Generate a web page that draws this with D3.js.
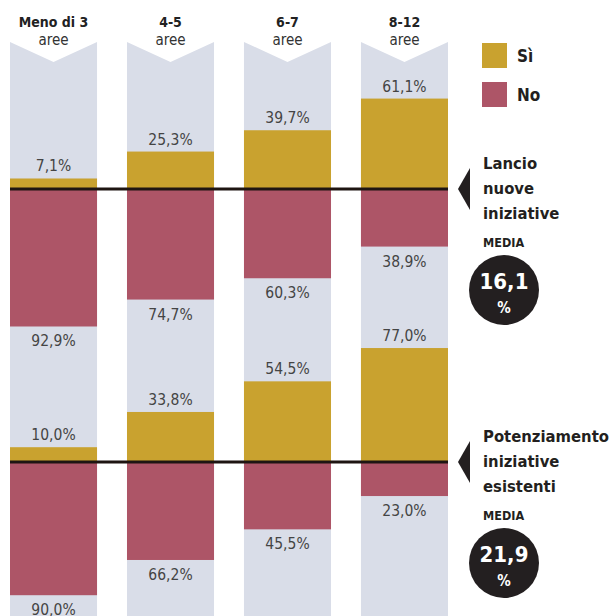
<!DOCTYPE html>
<html>
<head>
<meta charset="utf-8">
<script src="https://cdn.jsdelivr.net/npm/d3@7"></script>
<style>
  body { margin: 0; background: #fff; }
  svg { display: block; }
  text { font-family: "DejaVu Sans Condensed", "DejaVu Sans", sans-serif; }
</style>
</head>
<body>
<script>
var width = 611;
var height = 616;

// data
var categories = ["Meno di 3", "4-5", "6-7", "8-12"];
var subLabel = "aree";
var lancioSi = [7.1, 25.3, 39.7, 61.1];
var lancioNo = [92.9, 74.7, 60.3, 38.9];
var potSi = [10.0, 33.8, 54.5, 77.0];
var potNo = [90.0, 66.2, 45.5, 23.0];
var panelTitles = [["Lancio", "nuove", "iniziative"], ["Potenziamento", "iniziative", "esistenti"]];
var medie = [16.1, 21.9];
var legendLabels = ["Sì", "No"];

var colSi = "#c9a22f";
var colNo = "#ad5567";
var colBg = "#d9dde8";

var panels = [
  { base: 189, si: lancioSi, no: lancioNo, title: panelTitles[0], media: medie[0] },
  { base: 462, si: potSi, no: potNo, title: panelTitles[1], media: medie[1] }
];

var fmt = function(v) { return d3.format(".1f")(v).replace(".", ",") + "%"; };

let svg = d3.select("body")
            .append("svg")
            .attr("width", width)
            .attr("height", height);

var xScale = d3.scaleBand()
      .domain(categories)
      .range([10, 448])
      .paddingInner(0.256)
      .paddingOuter(0);

// pixels per percent point
var hScale = d3.scaleLinear().domain([0, 100]).range([0, 148]);

// column backgrounds with chevron top
svg.selectAll(".col")
   .data(categories)
   .join("path")
     .attr("fill", colBg)
     .attr("d", function(d){
       var x0 = xScale(d), x1 = x0 + xScale.bandwidth(), xc = (x0 + x1) / 2;
       return `M${x0},42 L${xc},62 L${x1},42 L${x1},${height} L${x0},${height} Z`;
     });

// column headers
var hdr = svg.selectAll(".hdr")
   .data(categories)
   .join("g")
     .attr("transform", d => `translate(${xScale(d) + xScale.bandwidth()/2},0)`);
hdr.append("text")
   .attr("y", 27)
   .attr("text-anchor", "middle")
   .attr("font-size", 14)
   .attr("font-weight", "bold")
   .attr("fill", "#222")
   .text(d => d);
hdr.append("text")
   .attr("y", 45)
   .attr("text-anchor", "middle")
   .attr("font-size", 15)
   .attr("fill", "#333")
   .text(subLabel);

panels.forEach(function(p){
  var g = svg.append("g");

  // Sì bars, upward
  g.selectAll(".si")
    .data(p.si)
    .join("rect")
      .attr("x", (d, i) => xScale(categories[i]))
      .attr("width", xScale.bandwidth())
      .attr("y", d => p.base - hScale(d))
      .attr("height", d => hScale(d))
      .attr("fill", colSi);

  // No bars, downward
  g.selectAll(".no")
    .data(p.no)
    .join("rect")
      .attr("x", (d, i) => xScale(categories[i]))
      .attr("width", xScale.bandwidth())
      .attr("y", p.base)
      .attr("height", d => hScale(d))
      .attr("fill", colNo);

  g.selectAll(".siLab")
    .data(p.si)
    .join("text")
      .attr("x", (d, i) => xScale(categories[i]) + xScale.bandwidth()/2)
      .attr("y", d => p.base - hScale(d) - 7)
      .attr("text-anchor", "middle")
      .attr("font-size", 15.5)
      .attr("fill", "#444")
      .text(fmt);

  g.selectAll(".noLab")
    .data(p.no)
    .join("text")
      .attr("x", (d, i) => xScale(categories[i]) + xScale.bandwidth()/2)
      .attr("y", d => p.base + hScale(d) + 20)
      .attr("text-anchor", "middle")
      .attr("font-size", 15.5)
      .attr("fill", "#444")
      .text(fmt);

  // baseline
  g.append("rect")
    .attr("x", 10)
    .attr("width", 438)
    .attr("y", p.base - 1.5)
    .attr("height", 3)
    .attr("fill", "#1e1512");

  // pointer
  g.append("path")
    .attr("d", `M458,${p.base} L470,${p.base - 21} L470,${p.base + 21} Z`)
    .attr("fill", "#231f20");

  g.selectAll(".ttl")
    .data(p.title)
    .join("text")
      .attr("x", 483)
      .attr("y", (d, i) => p.base - 20 + i * 25)
      .attr("font-size", 16.5)
      .attr("font-weight", "bold")
      .attr("fill", "#231f20")
      .text(d => d);

  g.append("text")
    .attr("x", 483)
    .attr("y", p.base + 58)
    .attr("font-size", 12.5)
    .attr("font-weight", "bold")
    .attr("fill", "#231f20")
    .text("MEDIA");

  g.append("circle")
    .attr("cx", 504)
    .attr("cy", p.base + 101)
    .attr("r", 35)
    .attr("fill", "#231f20");

  g.append("text")
    .attr("x", 504)
    .attr("y", p.base + 100)
    .attr("text-anchor", "middle")
    .attr("font-size", 22)
    .attr("font-weight", "bold")
    .attr("fill", "#fff")
    .text(d3.format(".1f")(p.media).replace(".", ","));

  g.append("text")
    .attr("x", 504)
    .attr("y", p.base + 124)
    .attr("text-anchor", "middle")
    .attr("font-size", 15)
    .attr("font-weight", "bold")
    .attr("fill", "#fff")
    .text("%");
});

// legend
var leg = svg.selectAll(".leg")
   .data(legendLabels)
   .join("g")
     .attr("transform", (d, i) => `translate(482,${43 + i * 39})`);
leg.append("rect")
   .attr("width", 25)
   .attr("height", 25)
   .attr("fill", (d, i) => i == 0 ? colSi : colNo);
leg.append("text")
   .attr("x", 35)
   .attr("y", 19)
   .attr("font-size", 17)
   .attr("font-weight", "bold")
   .attr("fill", "#231f20")
   .text(d => d);
</script>
</body>
</html>
